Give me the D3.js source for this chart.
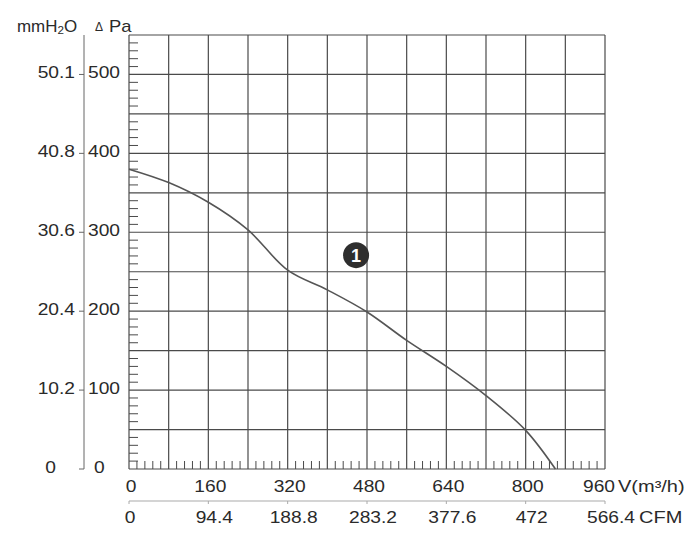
<!DOCTYPE html>
<html><head><meta charset="utf-8">
<script src="https://cdn.jsdelivr.net/npm/d3@7"></script>
<style>body{margin:0;background:#fff}svg{display:block}text{font-family:"Liberation Sans",Arial,sans-serif;fill:#2a2a2a}</style>
</head><body><svg id="c" width="700" height="539"></svg>
<script>
// data
const flowV = [0, 80, 160, 240, 320, 400, 480, 560, 640, 720, 800, 860];
const pressurePa = [380, 363, 338, 303, 252, 227, 199, 163, 130, 93, 49, 0];
const paTicks = [0, 100, 200, 300, 400, 500];
const mmTicks = ["0", "10.2", "20.4", "30.6", "40.8", "50.1"];
const vTicks = [0, 160, 320, 480, 640, 800, 960];
const cfmTicks = [0, 94.4, 188.8, 283.2, 377.6, 472, 566.4];
const marker = [{v: 458, p: 271, label: "1"}];

const svg = d3.select("#c");
const x = d3.scaleLinear([0, 960], [129, 605]);
const y = d3.scaleLinear([0, 550], [469, 35]);
const xc = d3.scaleLinear([0, 566.4], [129, 605]);
const grid = "#4a4a4a";

function txt(g, px, py, s, anchor, sx) {
  return g.append("text").attr("transform", `translate(${px},${py}) scale(${sx||1.2},1)`)
    .attr("text-anchor", anchor).attr("font-size", 16).text(s);
}

// grid
const gg = svg.append("g").attr("stroke", grid).attr("stroke-width", 1.2).attr("fill", "none");
gg.selectAll(".vg").data(d3.range(0, 961, 80)).join("line")
  .attr("x1", d => x(d)).attr("x2", d => x(d)).attr("y1", y(550)).attr("y2", y(0));
gg.selectAll(".hg").data(d3.range(0, 551, 50)).join("line")
  .attr("y1", d => y(d)).attr("y2", d => y(d)).attr("x1", x(0)).attr("x2", x(960));

// minor ticks
const mt = svg.append("g").attr("stroke", grid).attr("stroke-width", 1);
mt.selectAll(".mx").data(d3.range(0, 961, 16).filter(d => d % 80 !== 0)).join("line")
  .attr("x1", d => x(d)).attr("x2", d => x(d)).attr("y1", y(0)).attr("y2", y(0) - 8);
mt.selectAll(".my").data(d3.range(0, 551, 10).filter(d => d % 50 !== 0)).join("line")
  .attr("y1", d => y(d)).attr("y2", d => y(d)).attr("x1", x(0)).attr("x2", x(0) + 9);

// curve
const pts = flowV.map((v, i) => [v, pressurePa[i]]);
svg.append("path").datum(pts)
  .attr("d", d3.line().x(d => x(d[0])).y(d => y(d[1])).curve(d3.curveCatmullRom.alpha(0.5)))
  .attr("fill", "none").attr("stroke", "#555").attr("stroke-width", 1.6);

// marker
const mk = svg.append("g");
mk.selectAll("circle").data(marker).join("circle")
  .attr("cx", d => x(d.v)).attr("cy", d => y(d.p)).attr("r", 13).attr("fill", "#2e2e2e");
mk.selectAll("text").data(marker).join("text")
  .attr("x", d => x(d.v)).attr("y", d => y(d.p) + 6.5).attr("text-anchor", "middle")
  .attr("font-size", 18).attr("font-weight", "bold").style("fill", "#fff").text(d => d.label);

// left double axis
const la = svg.append("g");
la.append("line").attr("x1", 84).attr("x2", 84).attr("y1", y(550)).attr("y2", y(0))
  .attr("stroke", "#666").attr("stroke-width", 1);
la.selectAll(".lt").data(paTicks).join("line")
  .attr("x1", 79).attr("x2", 84).attr("y1", d => y(d)).attr("y2", d => y(d))
  .attr("stroke", "#666").attr("stroke-width", 1);
paTicks.forEach((d, i) => {
  txt(la, d === 0 ? 94 : 88, y(d) + 4, String(d), "start");
  txt(la, d === 0 ? 56 : 75, y(d) + 4, mmTicks[i], "end");
});

// top label
const tl = svg.append("text").attr("transform", "translate(17,32) scale(1.06,1)").attr("font-size", 16);
tl.append("tspan").text("mmH");
tl.append("tspan").attr("font-size", 11).attr("dy", 2).text("2");
tl.append("tspan").attr("dy", -2).text("O");
svg.append("text").attr("x", 95).attr("y", 31).attr("font-size", 12).text("Δ");
svg.append("text").attr("font-size", 16)
  .attr("transform", "translate(109,32) scale(1.15,1)").text("Pa");

// bottom V axis labels
const ba = svg.append("g");
vTicks.forEach(d => txt(ba, x(d) + (d === 960 ? -6 : 2), 492, String(d), "middle"));
txt(ba, 618, 492, "V(m³/h)", "start", 1.25);

// CFM axis
const ca = svg.append("g");
ca.append("line").attr("x1", xc(0)).attr("x2", xc(566.4)).attr("y1", 501).attr("y2", 501)
  .attr("stroke", "#aaa").attr("stroke-width", 1.2);
ca.selectAll(".ct").data(cfmTicks).join("line")
  .attr("x1", d => xc(d)).attr("x2", d => xc(d)).attr("y1", 501).attr("y2", 504)
  .attr("stroke", "#aaa").attr("stroke-width", 1);
cfmTicks.forEach(d => txt(ca, xc(d) + (d === 0 ? 1 : 6), 523, String(d), "middle"));
txt(ca, 639, 523, "CFM", "start", 1.25);
</script></body></html>
